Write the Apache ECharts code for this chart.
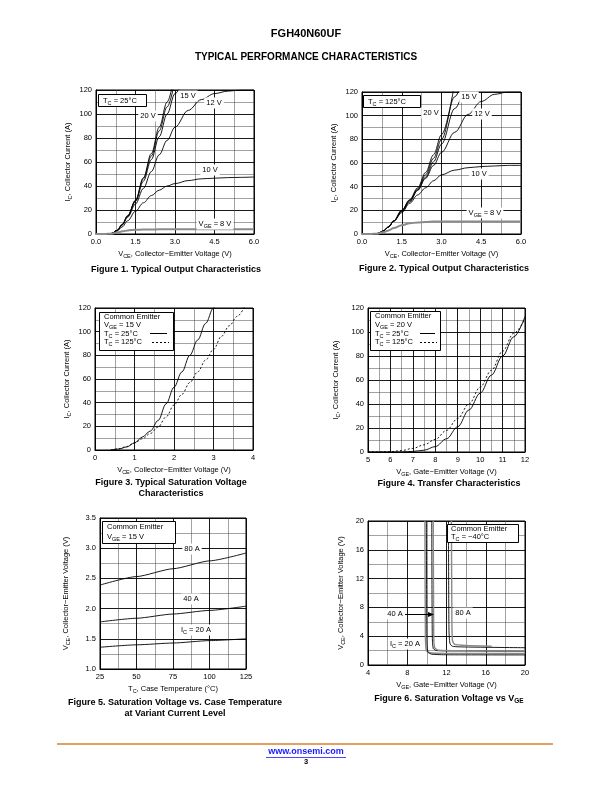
<!DOCTYPE html>
<html><head><meta charset="utf-8">
<script src="https://cdn.jsdelivr.net/npm/echarts@6/dist/echarts.min.js"></script>
<style>html,body{margin:0;padding:0;background:#fff}#c{width:612px;height:792px}</style>
</head><body><div id="c"></div>
<script>
// ---------- DATA ----------
// Figure 1 (Tc = 25 C)
const fig1_x = [0,0.3,0.6,0.8,1.0,1.2,1.5,1.8,2.1,2.4,2.7,3.0,3.5,4.0,4.5,5.0,5.5,6.0];
const fig1_20V = [0,0,0.5,3,8,15,28,47,67,89,110,135];
const fig1_17V = [0,0,0.5,3,8,15,28,46,65,86,106,128];
const fig1_15V = [0,0,0.5,3,8,15,27,44,62,81,100,117,140];
const fig1_12V = [0,0,0.5,3,7.5,14,25,38,52,66,78,89,103,112,117,119,120,120];
const fig1_10V = [0,0,0.5,2.5,6,11,19,26,32,36.5,40,42,44.5,46,46.5,47,47.2,47.5];
const fig1_8V  = [0,0,0.3,1.2,2.2,3,3.5,3.7,3.8,3.9,4,4,4,4,4,4,4,4];
// Figure 2 (Tc = 125 C)
const fig2_x = [0,0.3,0.6,0.8,1.0,1.2,1.5,1.8,2.1,2.4,2.7,3.0,3.5,4.0,4.5,5.0,5.5,6.0];
const fig2_20V = [0,0,0.5,2.5,6,11,20,29,39,52,67,84,128];
const fig2_17V = [0,0,0.5,2.5,6,11,20,28.5,38,50,64,80,116,150];
const fig2_15V = [0,0,0.5,2.5,6,11,19.5,28,37,48,61,76,106,136];
const fig2_12V = [0,0,0.5,2.5,6,11,19,27,37,47,58,69,86,101,112,118,120,120];
const fig2_10V = [0,0,0.5,2.5,6,11,18,26,33,39,45,50,54,56,57,57.5,58,58];
const fig2_8V  = [0,0,0.3,1.5,3,5,7.5,9,9.8,10.2,10.5,10.5,10.6,10.6,10.6,10.6,10.5,10.5];
// Figure 3 (VGE = 15 V)
const fig3_x25  = [0.4,0.6,0.8,1.0,1.2,1.4,1.6,1.8,2.0,2.2,2.4,2.6,2.8,3.0,3.1];
const fig3_I25  = [0,0.8,2.5,6,11,16,25,39,53,66,80,93,107,120,127];
const fig3_x125 = [0.4,0.6,0.8,1.0,1.2,1.4,1.6,1.8,2.0,2.2,2.4,2.6,2.8,3.0,3.2,3.4,3.6,3.8];
const fig3_I125 = [0,1,3,6,9.5,14,19.5,28,38,47,57,66,76,85,96,105,113,122];
// Figure 4 (VCE = 20 V)
const fig4_x25  = [5,6.5,7,7.5,8,8.5,9,9.5,10,10.5,11,11.5,12];
const fig4_I25  = [0,0,0.5,1.5,4.5,11,21,35,49,64,80,96,113];
const fig4_x125 = [5,5.5,6,6.5,7,7.5,8,8.5,9,9.5,10,10.5,11,11.5,12];
const fig4_I125 = [0,0,0.3,1.2,3,6,10.5,18,28,40,54,68,84,99,111];
// Figure 5 (VCE vs Tc)
const fig5_T = [25,50,75,100,125];
const fig5_80A = [2.39,2.53,2.66,2.79,2.92];
const fig5_40A = [1.78,1.84,1.91,1.97,2.04];
const fig5_20A = [1.36,1.40,1.43,1.47,1.50];
// Figure 6 (VCE vs VGE, Tc = -40 C)
const fig6_x20a = [9.8,9.85,9.95,10.3,12,20];     const fig6_v20a = [20,4,2.0,1.7,1.62,1.6];
const fig6_x20b = [9.95,10.0,10.1,10.5,12,20];    const fig6_v20b = [20,4,1.8,1.5,1.42,1.4];
const fig6_x40a = [10.5,10.55,10.65,11,14,20];    const fig6_v40a = [20,4,2.3,2.0,1.95,1.9];
const fig6_x40b = [10.65,10.7,10.8,11.2,14,20];   const fig6_v40b = [20,4,2.4,2.05,1.98,1.95];
const fig6_x80a = [12.2,12.25,12.35,12.6,14,20];  const fig6_v80a = [20,5,3,2.6,2.5,2.4];
const fig6_x80b = [12.5,12.55,12.6,12.8,14,16.6]; const fig6_v80b = [20,6,3.5,2.9,2.7,2.6];

// ---------- CHART ----------
const FONT = 'Liberation Sans, Arial, Helvetica, sans-serif';
const zip = (xs, ys) => ys.map((y, i) => [xs[i], y]);
const RICH = {
  n: {fontSize: 7.5, lineHeight: 11, fontFamily: FONT, color: '#000'},
  s: {fontSize: 5.5, lineHeight: 5, verticalAlign: 'bottom', fontFamily: FONT, color: '#000'},
  bn: {fontSize: 9, lineHeight: 12, fontWeight: 'bold', fontFamily: FONT, color: '#000'},
  bs: {fontSize: 6.5, lineHeight: 6, verticalAlign: 'bottom', fontWeight: 'bold', fontFamily: FONT, color: '#000'}
};
const grids = [
  {left: 96, top: 90, width: 158, height: 144},
  {left: 362, top: 92, width: 159, height: 142},
  {left: 95, top: 308, width: 158, height: 142},
  {left: 368, top: 308, width: 157, height: 144},
  {left: 100, top: 518, width: 146, height: 151},
  {left: 368, top: 521, width: 157, height: 144}
];
grids.forEach(g => { g.show = true; g.borderColor = '#000'; g.borderWidth = 1; g.containLabel = false; });

function mkAxis(type, gi, min, max, interval, dec, name, gap) {
  return {
    type: 'value', gridIndex: gi, min: min, max: max, interval: interval,
    name: name, nameLocation: 'middle', nameGap: gap,
    nameRotate: type === 'y' ? 90 : 0,
    nameTextStyle: {rich: RICH},
    axisLine: {show: true, lineStyle: {color: '#000', width: 1}},
    axisTick: {show: false},
    axisLabel: {fontSize: 7.5, color: '#000', fontFamily: FONT, margin: 4,
      formatter: v => dec ? v.toFixed(dec) : String(v)},
    splitLine: {show: true, lineStyle: {color: '#000', width: 0.9}},
    minorTick: {show: false, splitNumber: 2},
    minorSplitLine: {show: true, lineStyle: {color: '#444', width: 0.5}}
  };
}
const xAxes = [
  mkAxis('x', 0, 0, 6, 1.5, 1, '{n|V}{s|CE}{n|, Collector−Emitter Voltage (V)}', 14),
  mkAxis('x', 1, 0, 6, 1.5, 1, '{n|V}{s|CE}{n|, Collector−Emitter Voltage (V)}', 14),
  mkAxis('x', 2, 0, 4, 1, 0, '{n|V}{s|CE}{n|, Collector−Emitter Voltage (V)}', 14),
  mkAxis('x', 3, 5, 12, 1, 0, '{n|V}{s|GE}{n|, Gate−Emitter Voltage (V)}', 14),
  mkAxis('x', 4, 25, 125, 25, 0, '{n|T}{s|C}{n|, Case Temperature (°C)}', 14),
  mkAxis('x', 5, 4, 20, 4, 0, '{n|V}{s|GE}{n|, Gate−Emitter Voltage (V)}', 14)
];
const yAxes = [
  mkAxis('y', 0, 0, 120, 20, 0, '{n|I}{s|C}{n|, Collector Current (A)}', 23),
  mkAxis('y', 1, 0, 120, 20, 0, '{n|I}{s|C}{n|, Collector Current (A)}', 23),
  mkAxis('y', 2, 0, 120, 20, 0, '{n|I}{s|C}{n|, Collector Current (A)}', 23),
  mkAxis('y', 3, 0, 120, 20, 0, '{n|I}{s|C}{n|, Collector Current (A)}', 27),
  mkAxis('y', 4, 1.0, 3.5, 0.5, 1, '{n|V}{s|CE}{n|, Collector−Emitter Voltage (V)}', 29),
  mkAxis('y', 5, 0, 20, 4, 0, '{n|V}{s|CE}{n|, Collector−Emitter Voltage (V)}', 22)
];

function line(gi, data, opts) {
  opts = opts || {};
  return {
    type: 'line', xAxisIndex: gi, yAxisIndex: gi, data: data, showSymbol: false, symbol: 'none',
    smooth: opts.smooth === undefined ? 0.35 : opts.smooth, smoothMonotone: opts.mono, clip: true, silent: true,
    lineStyle: {color: opts.color || '#000', width: opts.width || 0.9, type: opts.type || 'solid'},
    z: opts.z || 3, animation: false
  };
}
const GREY = '#8a8a8a';
const series = [
  line(0, zip(fig1_x, fig1_20V), {mono: 'x'}),
  line(0, zip(fig1_x, fig1_17V), {mono: 'x'}),
  line(0, zip(fig1_x, fig1_15V), {mono: 'x'}),
  line(0, zip(fig1_x, fig1_12V), {mono: 'x'}),
  line(0, zip(fig1_x, fig1_10V), {mono: 'x'}),
  line(0, zip(fig1_x, fig1_8V), {mono: 'x', color: GREY, width: 2}),
  line(1, zip(fig2_x, fig2_20V), {mono: 'x'}),
  line(1, zip(fig2_x, fig2_17V), {mono: 'x'}),
  line(1, zip(fig2_x, fig2_15V), {mono: 'x'}),
  line(1, zip(fig2_x, fig2_12V), {mono: 'x'}),
  line(1, zip(fig2_x, fig2_10V), {mono: 'x'}),
  line(1, zip(fig2_x, fig2_8V), {mono: 'x', color: GREY, width: 2}),
  line(2, zip(fig3_x25, fig3_I25), {mono: 'x'}),
  line(2, zip(fig3_x125, fig3_I125), {mono: 'x', type: [2, 2]}),
  line(3, zip(fig4_x25, fig4_I25), {mono: 'x'}),
  line(3, zip(fig4_x125, fig4_I125), {mono: 'x', type: [2, 2]}),
  line(4, zip(fig5_T, fig5_80A), {mono: 'x', smooth: 0.2}),
  line(4, zip(fig5_T, fig5_40A), {mono: 'x', smooth: 0.2}),
  line(4, zip(fig5_T, fig5_20A), {mono: 'x', smooth: 0.2}),
  line(5, zip(fig6_x20a, fig6_v20a), {smooth: 0.2, color: GREY, width: 1.4}),
  line(5, zip(fig6_x20b, fig6_v20b), {smooth: 0.2}),
  line(5, zip(fig6_x40a, fig6_v40a), {smooth: 0.2}),
  line(5, zip(fig6_x40b, fig6_v40b), {smooth: 0.2, color: GREY, width: 1.4}),
  line(5, zip(fig6_x80a, fig6_v80a), {smooth: 0.2}),
  line(5, zip(fig6_x80b, fig6_v80b), {smooth: 0.2, color: GREY, width: 1.4})
];

// ---------- ANNOTATIONS ----------
function txt(x, y, rich, align, bg) {
  return {type: 'text', x: x, y: y, z: 50,
    style: {text: rich, rich: RICH, align: align || 'center', verticalAlign: 'middle',
      backgroundColor: bg ? '#fff' : null, padding: bg ? [0, 2, 0, 2] : 0}};
}
function plain(x, y, s, size, bold, align, color) {
  return {type: 'text', x: x, y: y, z: 50,
    style: {text: s, fontSize: size, fontWeight: bold ? 'bold' : 'normal', fontFamily: FONT,
      fill: color || '#000', align: align || 'center', verticalAlign: 'middle'}};
}
function box(x, y, w, h) {
  return {type: 'rect', z: 40, shape: {x: x, y: y, width: w, height: h},
    style: {fill: '#fff', stroke: '#000', lineWidth: 1}};
}
function seg(x1, y1, x2, y2, dash, color, w) {
  return {type: 'line', z: 51, shape: {x1: x1, y1: y1, x2: x2, y2: y2},
    style: {stroke: color || '#000', lineWidth: w || 1, lineDash: dash || null}};
}
const graphic = [
  plain(306, 34, 'FGH40N60UF', 11, true),
  plain(306, 57, 'TYPICAL PERFORMANCE CHARACTERISTICS', 10, true),
  // fig 1
  box(98.5, 94.5, 48, 12), txt(103, 100.5, '{n|T}{s|C}{n| = 25°C}', 'left'),
  txt(188, 96, '{n|15 V}', 'center', true), txt(148, 116, '{n|20 V}', 'center', true),
  txt(214, 103, '{n|12 V}', 'center', true), txt(210, 170, '{n|10 V}', 'center', true),
  txt(215, 224, '{n|V}{s|GE}{n| = 8 V}', 'center', true),
  txt(176, 270, '{bn|Figure 1. Typical Output Characteristics}'),
  // fig 2
  box(363.5, 95.5, 57, 12), txt(368, 101.5, '{n|T}{s|C}{n| = 125°C}', 'left'),
  txt(469, 97, '{n|15 V}', 'center', true), txt(431, 113, '{n|20 V}', 'center', true),
  txt(482, 114, '{n|12 V}', 'center', true), txt(479, 174, '{n|10 V}', 'center', true),
  txt(485, 213, '{n|V}{s|GE}{n| = 8 V}', 'center', true),
  txt(444, 269, '{bn|Figure 2. Typical Output Characteristics}'),
  // fig 3
  box(99.5, 312.5, 74, 38),
  txt(104, 317, '{n|Common Emitter}', 'left'), txt(104, 325, '{n|V}{s|GE}{n| = 15 V}', 'left'),
  txt(104, 333.5, '{n|T}{s|C}{n| = 25°C}', 'left'), txt(104, 342, '{n|T}{s|C}{n| = 125°C}', 'left'),
  seg(150, 333.5, 167, 333.5), seg(152, 342.5, 169, 342.5, [2, 2]),
  txt(171, 483, '{bn|Figure 3. Typical Saturation Voltage}'),
  txt(171, 494, '{bn|Characteristics}'),
  // fig 4
  box(370.5, 311.5, 70, 39),
  txt(375, 316, '{n|Common Emitter}', 'left'), txt(375, 324.5, '{n|V}{s|GE}{n| = 20 V}', 'left'),
  txt(375, 333.5, '{n|T}{s|C}{n| = 25°C}', 'left'), txt(375, 342, '{n|T}{s|C}{n| = 125°C}', 'left'),
  seg(420, 333.5, 435, 333.5), seg(420, 342.5, 437, 342.5, [2, 2]),
  txt(449, 484, '{bn|Figure 4. Transfer Characteristics}'),
  // fig 5
  box(102.5, 521.5, 73, 22),
  txt(107, 527, '{n|Common Emitter}', 'left'), txt(107, 536.5, '{n|V}{s|GE}{n| = 15 V}', 'left'),
  txt(192, 549, '{n|80 A}', 'center', true), txt(191, 599, '{n|40 A}', 'center', true),
  txt(196, 630, '{n|I}{s|C}{n| = 20 A}', 'center', true),
  txt(175, 703, '{bn|Figure 5. Saturation Voltage vs. Case Temperature}'),
  txt(175, 714, '{bn|at Variant Current Level}'),
  // fig 6
  box(447.5, 524.5, 71, 18),
  txt(451, 529, '{n|Common Emitter}', 'left'), txt(451, 536.5, '{n|T}{s|C}{n| = −40°C}', 'left'),
  txt(395, 614, '{n|40 A}', 'center', true), txt(463, 613, '{n|80 A}', 'center', true),
  txt(405, 644, '{n|I}{s|C}{n| = 20 A}', 'center', true),
  seg(405, 614.5, 430, 614.5),
  {type: 'polygon', z: 52, shape: {points: [[434, 614.5], [428, 612], [428, 617]]}, style: {fill: '#000'}},
  txt(449, 699, '{bn|Figure 6. Saturation Voltage vs V}{bs|GE}'),
  // footer
  seg(57, 744, 553, 744, null, '#d9822b', 1.5),
  plain(306, 752, 'www.onsemi.com', 9, true, 'center', '#1a1aff'),
  seg(266, 757.5, 346, 757.5, null, '#1a1aff', 0.8),
  plain(306, 762, '3', 7.5, true)
];

const chart = echarts.init(document.getElementById('c'), null, {renderer: 'canvas'});
chart.setOption({
  animation: false, backgroundColor: '#fff',
  textStyle: {fontFamily: FONT},
  grid: grids, xAxis: xAxes, yAxis: yAxes, series: series, graphic: graphic
});
</script></body></html>
